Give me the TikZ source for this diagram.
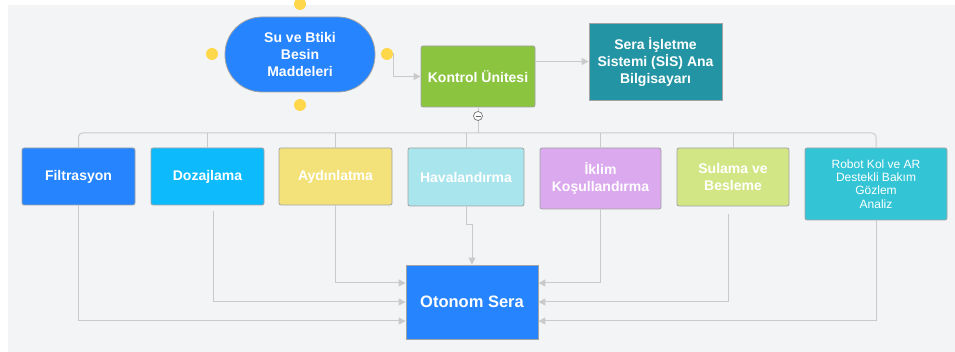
\documentclass[tikz,border=0pt]{standalone}
\usepackage{fontspec}
\setmainfont{Liberation Sans}
\usetikzlibrary{calc,arrows.meta}

\definecolor{bgcol}{HTML}{F3F4F6}
\definecolor{linecol}{HTML}{CACACA}
\definecolor{edgecol}{HTML}{A3A3A3}
\definecolor{blueC}{HTML}{2684FF}
\definecolor{skyC}{HTML}{0DBBFD}
\definecolor{yelC}{HTML}{F3E27A}
\definecolor{aquaC}{HTML}{A9E5EC}
\definecolor{lilaC}{HTML}{DBA9EE}
\definecolor{limeC}{HTML}{D3E685}
\definecolor{cyanC}{HTML}{33C5D6}
\definecolor{greenC}{HTML}{8BC43F}
\definecolor{tealC}{HTML}{2294A3}
\definecolor{dotC}{HTML}{FFD74A}

\tikzset{
  box/.style={draw=edgecol, line width=0.8pt, rounded corners=2pt, text=white,
    font=\bfseries\fontsize{14}{17}\selectfont, align=center, inner sep=0pt},
  conn/.style={draw=linecol, line width=1pt},
  tip/.style={-{Triangle[length=7pt,width=7pt,color=linecol]}},
  handle/.style={circle, fill=dotC, minimum size=12pt, inner sep=0pt},
}

\begin{document}
\begin{tikzpicture}[x=1pt,y=-1pt]
		%%%%% BACKGROUND %%%%%
		\useasboundingbox (0,0) rectangle (955,352);
		\fill[bgcol] (8,5) rectangle (955,352);
		
		%%%%% TOP %%%%%
		\begin{scope}
		\clip (0,0) rectangle (955,352);
		\node[handle] (hl) at (212,54) {};
		\node[handle] (hr) at (387,54) {};
		\node[handle] (ht) at (300,4) {};
		\node[handle] (hb) at (300,105) {};
		\end{scope}
		\node[box, fill=blueC, rounded corners=37pt, minimum width=150pt, minimum height=75pt] (besin) at (300,54.5) {Su ve Btiki\\Besin\\Maddeleri};
		\node[box, fill=greenC, minimum width=114pt, minimum height=61pt] (kontrol) at (478,76.5) {Kontrol Ünitesi};
		\node[box, fill=tealC, rounded corners=0pt, minimum width=133pt, minimum height=77pt] (sis) at (655.5,61.5) {Sera İşletme\\Sistemi (SİS) Ana\\Bilgisayarı};
		
		\draw[conn, tip] (hr) -- ++(6,0) |- (kontrol.west);
		\draw[conn, tip] (kontrol.east |- sis.west) -- (sis.west);
		
		%%%%% ROW %%%%%
		\node[box, fill=blueC, minimum width=113pt, minimum height=57pt] (filt) at (78.5,176.5) {Filtrasyon};
		\node[box, fill=skyC, minimum width=113pt, minimum height=57pt] (doz) at (207.5,176.5) {Dozajlama};
		\node[box, fill=yelC, minimum width=113pt, minimum height=57pt] (ayd) at (335.5,176.5) {Aydınlatma};
		\node[box, fill=aquaC, minimum width=116pt, minimum height=58pt] (hav) at (466,177) {Havalandırma};
		\node[box, fill=lilaC, minimum width=121pt, minimum height=61pt] (ikl) at (600.5,178.5) {İklim\\Koşullandırma};
		\node[box, fill=limeC, minimum width=112pt, minimum height=58pt] (sul) at (733,177) {Sulama ve\\Besleme};
		\node[box, fill=cyanC, minimum width=142pt, minimum height=72pt, font=\fontsize{12}{13.4}\selectfont] (rob) at (876,184) {Robot Kol ve AR\\Destekli Bakım\\Gözlem\\Analiz};
		
		\coordinate (bus) at (0,133);
		\draw[conn, rounded corners=4pt] (filt.north) -- (filt.north |- bus) -- (rob.north |- bus) -- (rob.north);
		\foreach \n in {doz,ayd,hav,ikl,sul}
			\draw[conn] (\n.north) -- (\n.north |- bus);
		\draw[conn] (kontrol.south) -- (kontrol.south |- bus);
		\node[circle, draw=black!55, fill=white, line width=0.7pt, minimum size=9pt, inner sep=0pt] (fold) at (478,116) {};
		\draw[black!60, line width=0.8pt] ($(fold.center)+(-2.5,0)$) -- ($(fold.center)+(2.5,0)$);
		
		%%%%% BOTTOM %%%%%
		\node[box, fill=blueC, rounded corners=0pt, minimum width=132pt, minimum height=74pt, font=\bfseries\fontsize{16.5}{19}\selectfont] (sera) at (472,302) {Otonom Sera};
		
		\draw[conn, tip] (filt.south) |- ($(sera.west)+(0,19)$);
		\draw[conn, tip] ($(doz.south)+(5.5,6)$) |- (sera.west);
		\draw[conn, tip] (ayd.south) |- ($(sera.west)+(0,-19)$);
		\draw[conn, tip] (hav.south) -- ++(0,18) -| (sera.north);
		\draw[conn, tip] (ikl.south) |- ($(sera.east)+(0,-19)$);
		\draw[conn, tip] ($(sul.south)+(-5,8)$) |- (sera.east);
		\draw[conn, tip] (rob.south) |- ($(sera.east)+(0,19)$);
		%%%%% END %%%%%
	\end{tikzpicture}
\end{document}
